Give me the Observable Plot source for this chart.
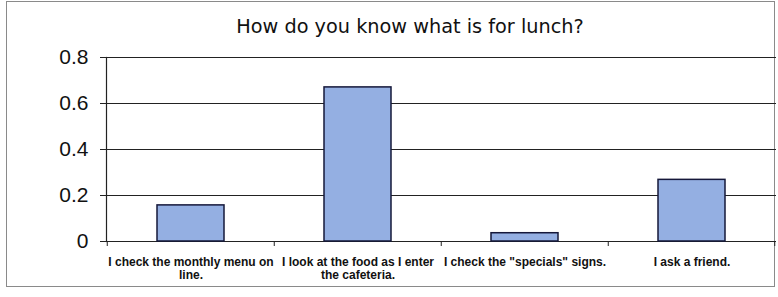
<!DOCTYPE html>
<html><head><meta charset="utf-8">
<script src="https://cdn.jsdelivr.net/npm/d3@7"></script>
<script src="https://cdn.jsdelivr.net/npm/@observablehq/plot@0.6"></script>
<style>
body{margin:0;background:#fff;}
#wrap{position:relative;width:778px;height:297px;}
#box{position:absolute;left:6px;top:1px;width:769px;height:286px;border:1px solid #8a8a8a;box-sizing:border-box;}
#title{position:absolute;left:0;top:15px;width:820px;text-align:center;font:19.3px "DejaVu Sans",Arial,sans-serif;color:#111;}
#chart{position:absolute;left:0;top:0;}
</style></head>
<body><div id="wrap"><div id="box"></div><div id="title">How do you know what is for lunch?</div><div id="chart"></div></div>
<script>
const categories = ["I check the monthly menu on line.", "I look at the food as I enter the cafeteria.", "I check the \"specials\" signs.", "I ask a friend."];
const categoryLabels = ["I check the monthly menu on\nline.", "I look at the food as I enter\nthe cafeteria.", "I check the \"specials\" signs.", "I ask a friend."];
const values = [0.157, 0.67, 0.036, 0.268];
const yTicks = [0, 0.2, 0.4, 0.6, 0.8];

const data = categories.map((c, i) => ({cat: c, value: values[i]}));
const labelOf = new Map(categories.map((c, i) => [c, categoryLabels[i]]));
const halfStep = 670 / 8;

const chart = Plot.plot({
  width: 778, height: 297,
  marginLeft: 106, marginRight: 2, marginTop: 57, marginBottom: 56,
  style: {background: "transparent", color: "#111"},
  x: {domain: categories, paddingInner: 0.6, paddingOuter: 0.3},
  y: {domain: [0, 0.8]},
  marks: [
    Plot.ruleY(yTicks, {stroke: "#222", strokeWidth: 1.2}),
    Plot.frame({anchor: "left", stroke: "#222", strokeWidth: 1.2}),
    Plot.barY(data, {x: "cat", y: "value", fill: "#94afe2", stroke: "#15183a", strokeWidth: 1.5}),
    Plot.axisY({ticks: yTicks, tickSize: 6, tickPadding: 12, tickFormat: d => d === 0 ? "0" : d3.format(".1f")(d), fontSize: 21, fontFamily: "Liberation Sans, Arial, sans-serif", label: null, stroke: "#222"}),
    Plot.axisX({tickSize: 0, tickPadding: 15, tickFormat: d => labelOf.get(d), fontSize: 12, fontWeight: "bold", fontFamily: "Liberation Sans Narrow, Arial Narrow, sans-serif", label: null, lineHeight: 1.1}),
    Plot.ruleX(categories, {x: d => d, dx: -halfStep, y1: 0, y2: 0, insetBottom: -5, stroke: "#222"}),
    Plot.ruleX(categories.slice(-1), {x: d => d, dx: halfStep - 1, y1: 0, y2: 0, insetBottom: -5, stroke: "#222"})
  ]
});
document.getElementById("chart").appendChild(chart);
</script></body></html>
